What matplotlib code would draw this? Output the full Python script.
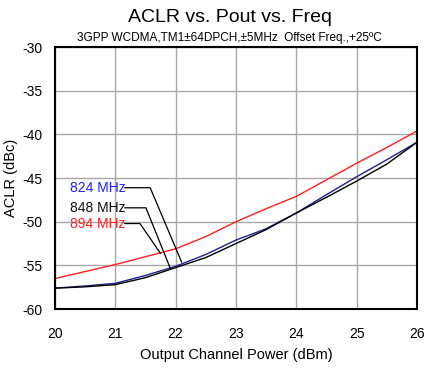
import matplotlib
matplotlib.use("Agg")
import matplotlib.pyplot as plt

# output power (dBm)
pout = [20, 20.5, 21, 21.5, 22, 22.5, 23, 23.5, 24, 24.5, 25, 25.5, 26]

# ACLR (dBc)
aclr_824 = [-57.6, -57.35, -57.05, -56.15, -55.1, -53.75, -52.1, -50.8, -49.0, -46.9, -44.85, -42.9, -40.9]
aclr_848 = [-57.6, -57.45, -57.2, -56.4, -55.25, -54.1, -52.5, -50.9, -49.0, -47.2, -45.35, -43.4, -40.9]
aclr_894 = [-56.5, -55.7, -54.9, -54.0, -53.1, -51.7, -50.0, -48.5, -47.1, -45.2, -43.3, -41.5, -39.6]

labels = ['824 MHz', '848 MHz', '894 MHz']
label_colors = ['#2020ff', '#101010', '#ff2020']
line_colors = ['#202090', '#000000', '#ff2020']

# leader lines: (text y, corner x, end point on curve)
leaders = [(-46.1, 21.58, 22.10, -54.6),
           (-48.4, 21.51, 21.92, -55.45),
           (-50.2, 21.41, 21.75, -53.6)]

plt.rcParams['font.family'] = ['Liberation Sans', 'DejaVu Sans']
plt.rcParams['axes.unicode_minus'] = False

fig = plt.figure(figsize=(4.25, 3.68), dpi=100)
ax = fig.add_axes([0.129, 0.160, 0.852, 0.712])

for y, c in zip([aclr_894, aclr_824, aclr_848], [line_colors[2], line_colors[0], line_colors[1]]):
    ax.plot(pout, y, color=c, lw=1.0)

for lab, tc, (ty, cx, ex, ey) in zip(labels, label_colors, leaders):
    ax.text(20.25, ty, lab, color=tc, fontsize=10, va='center', ha='left')
    ax.plot([21.16, cx, ex], [ty, ty, ey], color='black', lw=0.9)

ax.set_xlim(20, 26)
ax.set_ylim(-60, -30)
ax.set_xticks(range(20, 27))
ax.set_yticks(range(-60, -29, 5))
ax.grid(True, color='#a8a8a8', lw=1.0)
ax.set_axisbelow(True)
ax.tick_params(length=0, labelsize=10)
ax.tick_params(axis='x', pad=13)
ax.tick_params(axis='y', pad=9)
for s in ax.spines.values():
    s.set_linewidth(1.5)

ax.set_xlabel('Output Channel Power (dBm)', fontsize=10.5, labelpad=5)
ax.set_ylabel('ACLR (dBc)', fontsize=10.5, labelpad=3)

fig.text(0.54, 0.953, 'ACLR vs. Pout vs. Freq', ha='center', va='center', fontsize=14)
fig.text(0.54, 0.897, '3GPP WCDMA,TM1\u00b164DPCH,\u00b15MHz  Offset Freq.,+25\u00baC',
         ha='center', va='center', fontsize=8.5)

fig.savefig('out.png', dpi=100)
